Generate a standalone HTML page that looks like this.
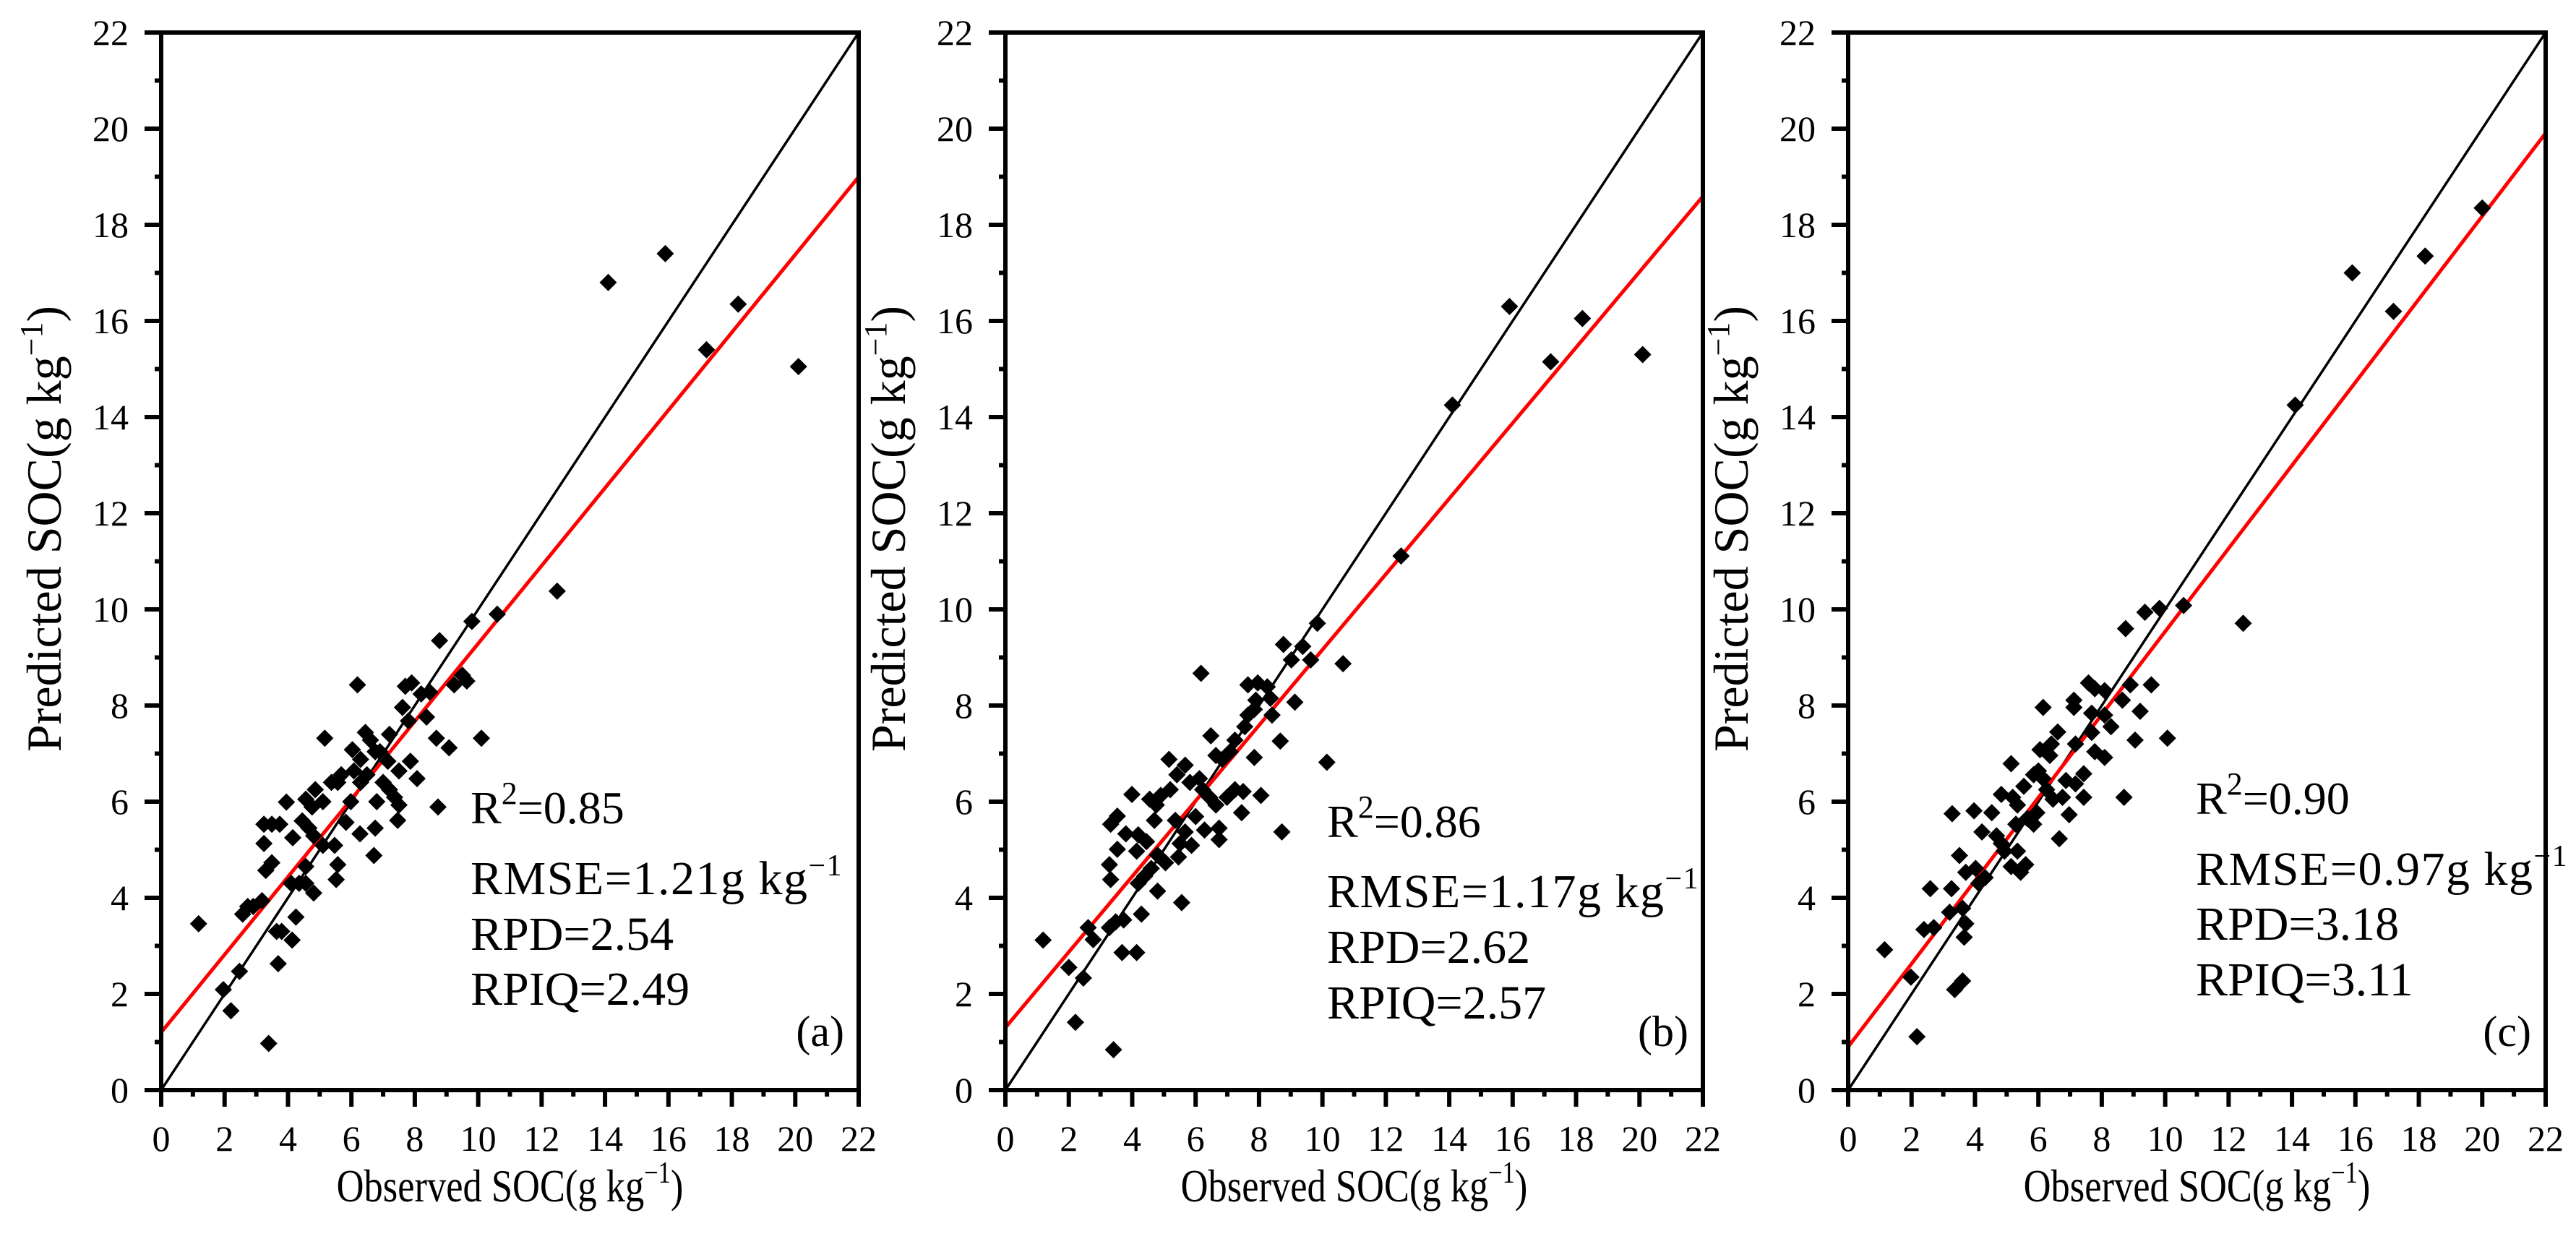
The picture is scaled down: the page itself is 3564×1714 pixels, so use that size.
<!DOCTYPE html>
<html><head><meta charset="utf-8"><style>
html,body{margin:0;padding:0;background:#fff;}
svg{display:block;font-family:"Liberation Serif",serif;}
</style></head><body>
<svg id="chart" width="3564" height="1714" viewBox="0 0 3564 1714" xmlns="http://www.w3.org/2000/svg"></svg>
<script>
const ticks = [0,2,4,6,8,10,12,14,16,18,20,22];
const panelIds = ['a','b','c'];
const statR2 = ['0.85','0.86','0.90'];
const statRMSE = ['1.21','1.17','0.97'];
const statRPD = ['2.54','2.62','3.18'];
const statRPIQ = ['2.49','2.57','3.11'];
const fitIntercept = [1.2, 1.3, 0.9];
const fitSlope = [0.809, 0.786, 0.864];
const obsA = [1.18,3.39,2.2,1.96,2.47,3.69,3.64,3.8,4.13,4.25,2.73,2.9,2.57,3.18,4.1,4.35,4.56,4.81,3.3,3.49,4.56,3.24,3.24,3.49,3.74,4.15,4.45,4.66,4.81,3.95,4.56,4.76,4.86,5.1,5.16,5.37,5.57,5.68,5.1,5.47,5.57,5.52,5.83,5.98,6.27,6.75,6.71,6.8,6.03,6.29,6.44,6.6,6.75,6.19,6.08,6.29,6.49,6.9,7.2,7.0,7.2,7.36,7.5,7.46,7.15,7.5,7.86,8.07,7.61,7.9,7.7,7.8,8.37,8.2,8.47,8.78,8.68,9.08,8.73,9.24,9.5,9.64,10.1,9.8,10.6,12.49,14.1,15.9,17.2,18.2,20.1];
const predA = [3.46,0.97,1.65,2.09,2.47,2.63,3.3,3.3,3.12,3.6,3.82,3.82,3.66,3.94,4.3,4.3,4.3,4.1,4.57,4.73,4.65,5.13,5.53,5.53,5.53,5.25,5.6,5.45,5.29,5.99,6.05,5.89,6.25,6.0,7.32,6.4,6.4,6.56,5.09,5.09,4.69,4.38,5.57,6.0,5.33,5.45,4.88,6.0,7.08,6.88,7.44,7.28,7.04,8.43,6.64,6.4,6.56,7.04,7.4,6.4,6.25,6.09,5.93,5.61,6.84,6.64,6.84,6.48,7.96,8.47,8.4,7.68,7.76,8.24,8.28,9.35,7.32,7.12,5.89,8.43,8.63,8.51,7.32,9.75,9.9,10.38,16.8,17.4,15.4,16.35,15.05];
const obsB = [1.19,2.21,3.41,2.0,2.46,2.77,2.61,3.28,3.48,3.73,3.68,4.14,4.29,4.8,5.56,3.28,3.32,3.53,4.14,3.32,3.53,3.8,4.19,4.45,3.99,4.19,4.39,4.6,4.8,5.05,5.46,4.55,4.76,4.9,4.7,5.16,5.2,5.67,5.36,5.67,5.87,5.51,5.41,5.82,6.12,6.22,6.0,6.28,6.17,6.48,6.44,6.64,6.74,6.74,6.64,6.84,7.09,7.24,6.99,7.24,7.5,7.45,7.55,7.65,7.85,7.9,7.65,7.96,8.26,8.36,8.41,7.85,8.06,8.67,8.72,8.77,9.02,9.38,9.63,9.13,9.84,10.14,10.65,12.48,14.1,15.9,17.2,18.2,20.1];
const predB = [3.12,1.41,0.84,2.55,2.33,3.13,3.38,3.38,3.5,3.54,2.86,2.86,3.66,4.14,3.9,4.69,4.38,5.01,4.97,5.53,5.7,5.33,5.31,5.17,6.15,4.3,4.45,4.61,4.89,4.73,4.85,6.05,5.93,6.13,5.61,6.88,6.25,6.76,5.61,5.37,5.09,5.13,6.56,6.4,6.48,6.25,5.69,5.41,8.67,7.37,6.09,5.93,5.45,5.21,6.96,6.88,7.04,7.28,6.09,6.25,6.21,5.77,7.56,7.8,7.92,8.11,8.43,8.47,8.39,8.15,7.8,6.92,6.13,7.26,5.37,9.27,8.95,9.23,8.95,8.07,9.71,6.82,8.87,11.11,14.25,16.3,15.15,16.05,15.3];
const obsC = [1.15,2.17,1.98,2.59,3.26,2.39,2.7,3.36,3.61,3.2,3.61,3.71,3.66,3.51,3.71,4.02,4.12,4.32,3.28,3.97,4.22,4.53,4.68,4.83,4.93,5.34,5.14,5.44,5.6,5.14,4.83,5.19,5.34,5.29,5.65,5.85,5.95,5.54,5.85,6.0,6.15,6.15,6.05,6.36,6.41,6.61,6.26,6.46,6.76,6.66,6.97,6.87,7.17,7.43,7.43,7.12,7.12,7.17,7.68,7.58,7.78,8.09,7.68,8.09,8.29,7.78,8.09,8.65,8.9,9.21,9.56,9.05,10.07,8.7,8.75,9.36,9.82,10.58,12.46,14.1,15.9,17.2,18.2,20.0];
const predC = [2.92,1.11,2.35,4.19,4.19,3.34,3.38,2.09,2.27,3.7,3.78,3.46,3.18,4.88,4.53,4.61,4.3,4.42,5.75,5.81,5.37,5.77,5.29,5.13,4.97,4.97,4.65,4.53,4.69,6.79,6.15,6.09,5.93,5.53,5.65,5.53,5.77,6.32,6.56,6.64,6.48,7.96,7.08,6.96,7.2,7.45,6.25,6.05,6.09,5.23,5.73,6.44,6.37,6.58,6.09,8.11,7.96,7.2,7.44,8.47,8.35,8.31,7.84,7.8,7.56,7.04,6.92,8.11,8.43,7.88,8.43,7.28,7.32,6.09,9.6,9.94,10.02,10.08,9.71,14.25,17.0,16.2,17.35,18.35];
const obsAll = [obsA, obsB, obsC];
const predAll = [predA, predB, predC];

const NS = 'http://www.w3.org/2000/svg';
const svg = document.getElementById('chart');
const axLeft = [223, 1391, 2557];
const axWidth = 965, yBottom = 1508, axHeight = 1463, vmax = 22;
function mk(tag, attrs, parent){ const e=document.createElementNS(NS,tag); for(const k in attrs) e.setAttribute(k,attrs[k]); (parent||svg).appendChild(e); return e; }

panelIds.forEach((pid, p) => {
  const g = mk('g', {});
  
  
  const L = axLeft[p];
  const sx = v => L + v / vmax * axWidth;
  const sy = v => yBottom - v / vmax * axHeight;
  const l11 = mk('line', {x1:sx(0), y1:sy(0), x2:sx(22), y2:sy(22), stroke:'#000', 'stroke-width':3.5}, g);
  
  
  const yEnd = fitIntercept[p] + fitSlope[p] * 22;
  const fl = mk('line', {x1:sx(0), y1:sy(fitIntercept[p]), x2:sx(22), y2:sy(yEnd), stroke:'#ff0000', 'stroke-width':5}, g);
  
  
  const ox = obsAll[p], py = predAll[p];
  for (let i = 0; i < ox.length; i++) {
    const cx = sx(ox[i]), cy = sy(py[i]), r = 12;
    const d = mk('polygon', {points:`${cx},${cy-r} ${cx+r},${cy} ${cx},${cy+r} ${cx-r},${cy}`, fill:'#000'}, g);
    
    
  }
  const fr = mk('rect', {x:L, y:sy(22), width:axWidth, height:axHeight, fill:'none', stroke:'#000', 'stroke-width':6}, g);
  
  
  for (let v = 0; v <= 22; v++) {
    const major = v % 2 === 0;
    const len = major ? 23 : 9;
    mk('line', {x1:sx(v), y1:yBottom, x2:sx(v), y2:yBottom+len, stroke:'#000', 'stroke-width':6}, g);
    mk('line', {x1:L, y1:sy(v), x2:L-len, y2:sy(v), stroke:'#000', 'stroke-width':6}, g);
  }
  ticks.forEach(t => {
    const tx = mk('text', {x:sx(t), y:1592, 'font-size':50, 'text-anchor':'middle'}, g);
    tx.textContent = t;
    
    
    const ty = mk('text', {x:L-45, y:sy(t)+17, 'font-size':50, 'text-anchor':'end'}, g);
    ty.textContent = t;
    
    
  });
  const xt = mk('text', {x:0, y:0, 'font-size':64, 'text-anchor':'middle', transform:`translate(${L + axWidth/2} 1662) scale(0.82 1)`}, g);
  xt.innerHTML = 'Observed SOC(g kg<tspan dy="-26" font-size="42">−1</tspan><tspan dy="26">)</tspan>';
  
  
  const ycx = L - 161, ycy = yBottom - axHeight/2 - 45;
  const yt = mk('text', {x:ycx, y:ycy, 'font-size':68, 'text-anchor':'middle', transform:`rotate(-90 ${ycx} ${ycy}) translate(0 22)`}, g);
  yt.innerHTML = 'Predicted SOC(g kg<tspan dy="-26" font-size="44">−1</tspan><tspan dy="26">)</tspan>';
  
  
  const statX = [651, 1836, 3038][p];
  const base = [[1139,1237,1314,1390],[1158,1255,1332,1409],[1126,1224,1300,1377]][p];
  const s1 = mk('text', {x:statX, y:base[0], 'font-size':64}, g);
  s1.innerHTML = 'R<tspan dy="-27" font-size="44">2</tspan><tspan dy="27">=' + statR2[p] + '</tspan>';
  
  
  const s2 = mk('text', {x:statX, y:base[1], 'font-size':66, 'letter-spacing':1.5}, g);
  s2.innerHTML = 'RMSE=' + statRMSE[p] + 'g kg<tspan dy="-26" font-size="42">−1</tspan>';
  
  
  const s3 = mk('text', {x:statX, y:base[2], 'font-size':66}, g);
  s3.textContent = 'RPD=' + statRPD[p];
  
  
  const s4 = mk('text', {x:statX, y:base[3], 'font-size':66}, g);
  s4.textContent = 'RPIQ=' + statRPIQ[p];
  
  
  const pl = mk('text', {x:L + axWidth - 20, y:1447, 'font-size':60, 'text-anchor':'end'}, g);
  pl.textContent = '(' + pid + ')';
  
  
});
</script>
</body></html>
